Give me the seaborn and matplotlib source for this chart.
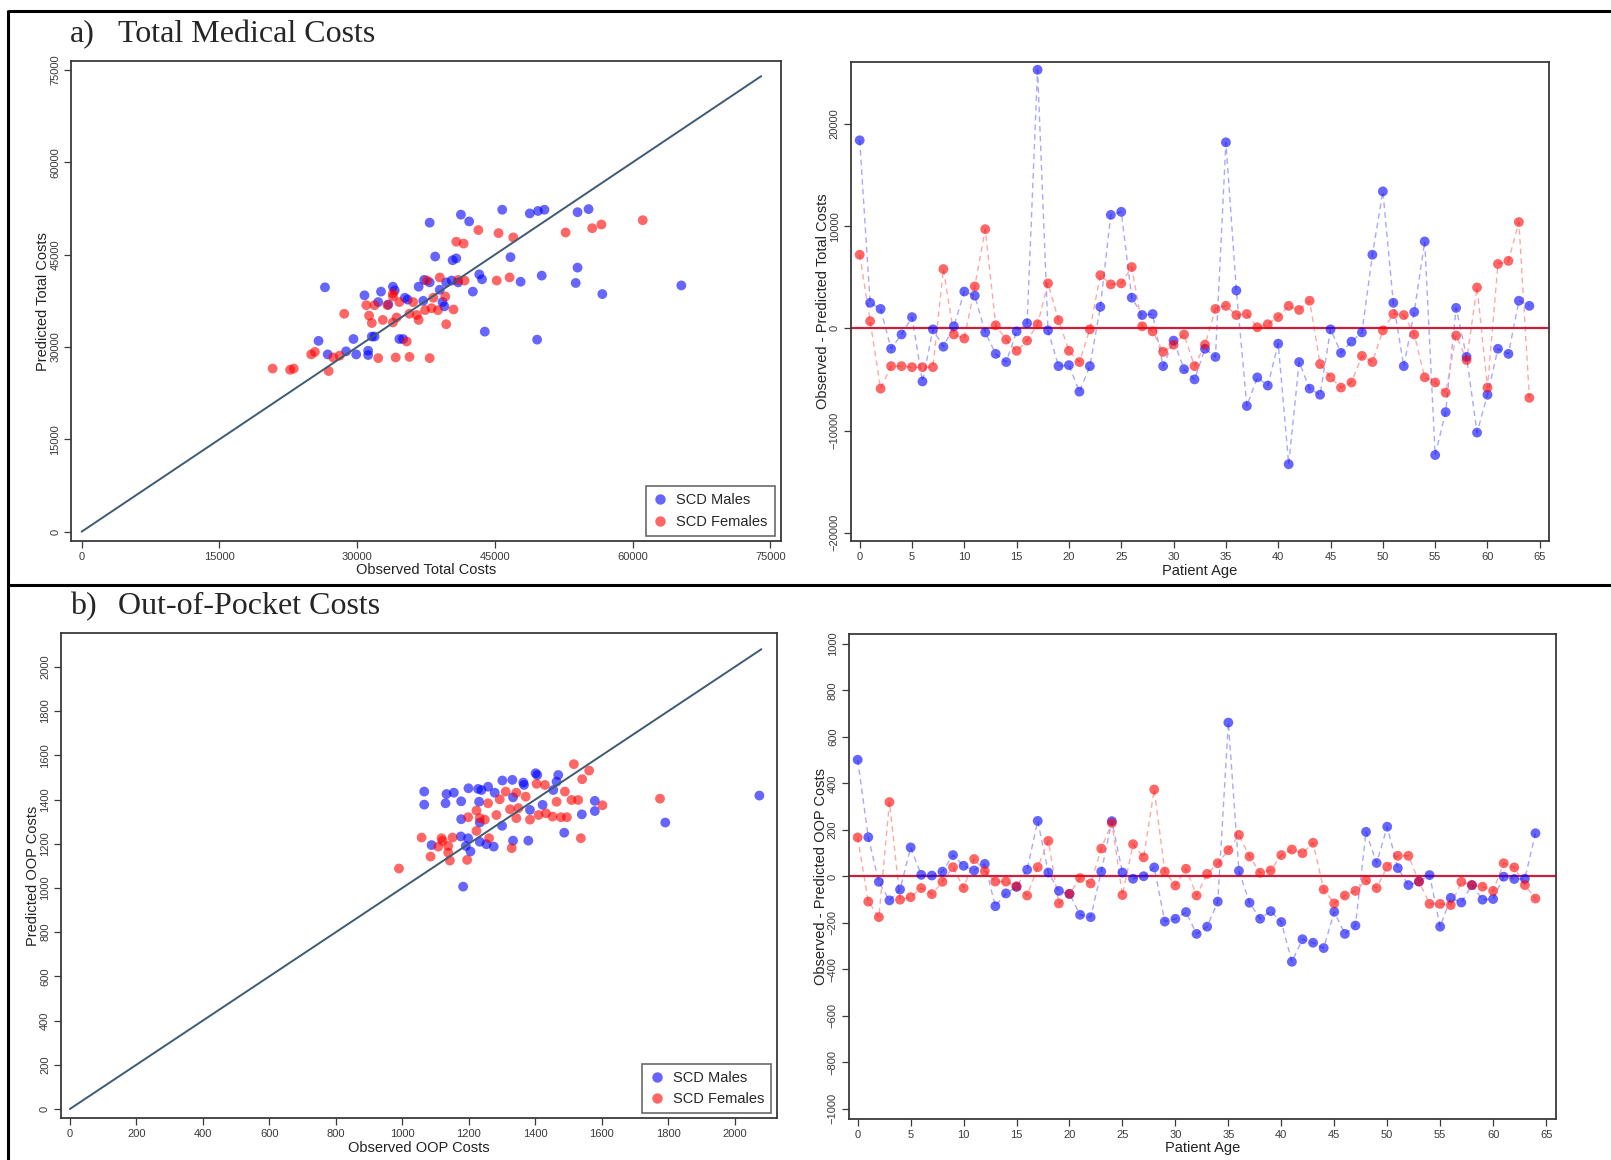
import matplotlib
matplotlib.use("Agg")
import matplotlib.pyplot as plt
from matplotlib.lines import Line2D
import seaborn as sns
import pandas as pd

# ---------------- data ----------------
ages = list(range(65))

tot_obs_male = [37900, 41300, 42200, 38500, 40400, 40800, 26500, 30800, 32600, 33900, 34100, 32300, 33400, 35200,
                36700, 37300, 37900, 39000, 39700, 40300, 41000, 43300, 43600, 42600, 39300, 39500, 35500, 37200,
                43900, 25800, 29600, 31600, 31900, 34600, 35000, 26800, 28800, 29900, 31200, 31200, 45800, 48800,
                49700, 50400, 54000, 55200, 46700, 47800, 50100, 53800, 54000, 56700, 65300, 49600]
tot_pred_male = [50200, 51500, 50400, 44700, 44100, 44400, 39700, 38400, 39000, 39800, 39200, 37300, 36900, 38000,
                 39800, 40900, 40500, 39300, 40500, 40800, 40500, 41800, 41000, 39000, 37300, 36600, 37700, 37500,
                 32500, 31000, 31300, 31700, 31700, 31300, 31300, 28800, 29300, 28800, 29400, 28700, 52300, 51700,
                 52100, 52300, 51900, 52400, 44600, 40600, 41600, 40400, 42900, 38600, 40000, 31200]
tot_obs_female = [43200, 40800, 41600, 39000, 37600, 41000, 41700, 33900, 33900, 31000, 31900, 33300, 34600, 36100,
                  28600, 31300, 31600, 32800, 33900, 34300, 35700, 36500, 36700, 37400, 38100, 38300, 38800, 39600,
                  40500, 39700, 35400, 25000, 25400, 27400, 28100, 32300, 34200, 35700, 37900, 20800, 22700, 23100,
                  26900, 45400, 47000, 52700, 55600, 56600, 61100, 45200, 46600]
tot_pred_female = [49000, 47100, 46800, 41300, 40800, 40900, 40800, 38700, 38200, 36800, 36800, 36800, 37300, 37300,
                   35400, 35100, 33900, 34400, 34000, 34800, 35400, 35200, 34400, 36000, 36300, 38000, 36000, 38200,
                   36100, 33700, 30900, 28800, 29200, 28300, 28600, 28200, 28300, 28400, 28200, 26500, 26300, 26500,
                   26100, 48500, 47800, 48600, 49300, 49900, 50600, 40800, 41300]

tot_resid_male = [18400, 2500, 1900, -2000, -600, 1100, -5200, -100, -1800, 200, 3600, 3200, -400, -2500, -3300,
                  -300, 500, 25300, -200, -3700, -3600, -6200, -3700, 2100, 11100, 11400, 3000, 1300, 1400, -3700,
                  -1200, -4000, -5000, -2000, -2800, 18200, 3700, -7600, -4800, -5600, -1500, -13300, -3300, -5900,
                  -6500, -100, -2400, -1300, -400, 7200, 13400, 2500, -3700, 1600, 8500, -12400, -8200, 2000, -2800,
                  -10200, -6500, -2000, -2500, 2700, 2200]
tot_resid_female = [7200, 700, -5900, -3700, -3700, -3800, -3800, -3800, 5800, -600, -1000, 4100, 9700, 300, -1100,
                    -2200, -1200, 400, 4400, 800, -2200, -3300, -100, 5200, 4300, 4400, 6000, 200, -300, -2300,
                    -1600, -600, -3700, -1600, 1900, 2200, 1300, 1400, 100, 400, 1100, 2200, 1800, 2700, -3500,
                    -4800, -5800, -5300, -2700, -3300, -200, 1400, 1300, -600, -4800, -5300, -6300, -700, -3100,
                    4000, -5800, 6300, 6600, 10400, -6800]

oop_obs_male = [1066, 1066, 1133, 1155, 1130, 1177, 1199, 1228, 1238, 1258, 1231, 1278, 1301, 1331, 1364, 1366,
                1401, 1406, 1469, 1464, 1454, 1333, 1384, 1422, 1579, 1540, 1487, 1177, 1300, 1233, 1176, 1198,
                1191, 1205, 1088, 1233, 1253, 1275, 1333, 1379, 1183, 1579, 2074, 1791]
oop_pred_male = [1436, 1377, 1425, 1431, 1383, 1392, 1451, 1448, 1443, 1458, 1390, 1431, 1486, 1489, 1477, 1466,
                 1519, 1511, 1511, 1481, 1443, 1410, 1353, 1376, 1394, 1333, 1250, 1311, 1281, 1296, 1233, 1225,
                 1190, 1165, 1194, 1209, 1198, 1187, 1214, 1214, 1006, 1348, 1418, 1296]
oop_obs_female = [1516, 1562, 1541, 1404, 1429, 1311, 1343, 1371, 1258, 1293, 1489, 1509, 1529, 1464, 1324, 1349,
                  1223, 1198, 1233, 1248, 1283, 1343, 1384, 1410, 1432, 1452, 1477, 1495, 1223, 1261, 1151, 1118,
                  1121, 1058, 1108, 1138, 1138, 1085, 1143, 1195, 1329, 1537, 990, 1602, 1775]
oop_pred_female = [1560, 1531, 1492, 1471, 1466, 1436, 1431, 1413, 1383, 1401, 1436, 1398, 1398, 1390, 1356, 1361,
                   1350, 1320, 1316, 1309, 1330, 1316, 1309, 1330, 1338, 1323, 1320, 1320, 1258, 1225, 1228, 1225,
                   1213, 1228, 1187, 1190, 1160, 1142, 1124, 1127, 1180, 1225, 1088, 1374, 1404]

oop_resid_male = [502, 169, -23, -103, -56, 125, 7, 4, 21, 92, 46, 26, 54, -128, -73, -45, 29, 239, 17, -62, -75,
                  -165, -175, 21, 238, 17, -10, 1, 39, -194, -182, -153, -247, -216, -108, 662, 24, -113, -182,
                  -149, -196, -367, -270, -285, -308, -152, -247, -211, 192, 58, 214, 36, -37, -22, 6, -216, -92,
                  -112, -37, -100, -97, -1, -11, -10, 186]
oop_resid_female = [168, -108, -175, 320, -100, -89, -50, -76, -23, 40, -50, 75, 23, -22, -22, -42, -82, 40, 153,
                    -116, -75, -7, -30, 120, 230, -80, 139, 82, 374, 21, -39, 33, -82, 11, 57, 113, 179, 86, 16,
                    26, 92, 116, 100, 145, -56, -116, -82, -62, -17, -50, 42, 89, 89, -22, -118, -118, -123, -23,
                    -37, -44, -62, 57, 39, -37, -95]

groups = ["SCD Males", "SCD Females"]

# ---------------- style ----------------
sns.set_style("ticks")
plt.rcParams["font.family"] = ["Liberation Sans", "DejaVu Sans"]

W, H = 1611, 1160
fig = plt.figure(figsize=(W / 100, H / 100), dpi=100, facecolor="white")

pal = {"SCD Males": "blue", "SCD Females": "red"}
line_pal = {"SCD Males": "#a8a8ff", "SCD Females": "#ffa8a8"}
spine_col = "#3a3a3a"
tick_col = "#3a3a3a"


def px_axes(left, top, right, bottom):
    return fig.add_axes([left / W, 1 - bottom / H, (right - left) / W, (bottom - top) / H])


def style_axes(ax):
    for s in ax.spines.values():
        s.set_visible(True)
        s.set_color(spine_col)
        s.set_linewidth(1.3)
    ax.tick_params(axis="both", direction="out", length=5, width=0.9, color=tick_col,
                   labelcolor=tick_col, labelsize=8, pad=3)
    for lab in ax.get_yticklabels():
        lab.set_rotation(90)
        lab.set_va("center")


def scatter_panel(ax, obs_m, pred_m, obs_f, pred_f, line_max, xlim, ylim, ticks, xlabel, ylabel, leg_anchor):
    df = pd.concat([
        pd.DataFrame({"obs": obs_m, "pred": pred_m, "group": groups[0]}),
        pd.DataFrame({"obs": obs_f, "pred": pred_f, "group": groups[1]}),
    ])
    sns.scatterplot(data=df, x="obs", y="pred", hue="group", palette=pal, alpha=0.6, s=50,
                    edgecolor="none", legend=False, ax=ax, zorder=2)
    ax.plot([0, line_max], [0, line_max], color="#3f5b74", lw=1.4, zorder=3)
    ax.set_xlim(*xlim)
    ax.set_ylim(*ylim)
    ax.set_xticks(ticks)
    ax.set_yticks(ticks)
    ax.set_xlabel(xlabel, fontsize=10.5, labelpad=1, color="#222222")
    ax.set_ylabel(ylabel, fontsize=10.5, labelpad=0, color="#222222")
    style_axes(ax)
    handles = [Line2D([], [], marker="o", ls="none", color=pal[g], alpha=0.6, markersize=7.5,
                      markeredgewidth=0) for g in groups]
    leg = ax.legend(handles, groups, loc="lower right", bbox_to_anchor=leg_anchor, borderaxespad=0,
                    fontsize=10.5, frameon=True, fancybox=False, handletextpad=0.6,
                    handlelength=1.0, labelspacing=0.5, borderpad=0.5)
    leg.get_frame().set_edgecolor("#444444")
    leg.get_frame().set_linewidth(1.2)


def resid_panel(ax, resid_m, resid_f, xlim, ylim, yticks, ylabel):
    df = pd.concat([
        pd.DataFrame({"age": ages, "resid": resid_m, "group": groups[0]}),
        pd.DataFrame({"age": ages, "resid": resid_f, "group": groups[1]}),
    ])
    for g in groups:
        sub = df[df["group"] == g]
        sns.lineplot(data=sub, x="age", y="resid", color=line_pal[g], lw=1.0, ax=ax,
                     dashes=False, linestyle=(0, (4, 3)), zorder=1)
    ax.axhline(0, color="#cc1f3d", lw=1.6, zorder=1.5)
    sns.scatterplot(data=df, x="age", y="resid", hue="group", palette=pal, alpha=0.6, s=50,
                    edgecolor="none", legend=False, ax=ax, zorder=2)
    ax.set_xlim(*xlim)
    ax.set_ylim(*ylim)
    ax.set_xticks(range(0, 66, 5))
    ax.set_yticks(yticks)
    ax.set_xlabel("Patient Age", fontsize=10.5, labelpad=1, color="#222222")
    ax.set_ylabel(ylabel, fontsize=10.5, labelpad=0, color="#222222")
    style_axes(ax)


# ---------------- a) total medical costs ----------------
ax1 = px_axes(71.4, 61.3, 780.6, 541)
scatter_panel(ax1, tot_obs_male, tot_pred_male, tot_obs_female, tot_pred_female, 74000,
              (-1110, 76110), (-1510, 76410), range(0, 75001, 15000),
              "Observed Total Costs", "Predicted Total Costs", (0.992, 0.0105))

ax2 = px_axes(851, 61.7, 1548.5, 541)
resid_panel(ax2, tot_resid_male, tot_resid_female, (-0.83, 65.83), (-20810, 26090),
            range(-20000, 20001, 10000), "Observed - Predicted Total Costs")

# ---------------- b) out-of-pocket costs ----------------
ax3 = px_axes(61.2, 633.3, 777, 1118.3)
scatter_panel(ax3, oop_obs_male, oop_pred_male, oop_obs_female, oop_pred_female, 2080,
              (-26, 2127), (-42, 2152), range(0, 2001, 200),
              "Observed OOP Costs", "Predicted OOP Costs", (0.992, 0.01))

ax4 = px_axes(849, 634, 1555.6, 1118.7)
resid_panel(ax4, oop_resid_male, oop_resid_female, (-0.82, 65.9), (-1042, 1043),
            range(-1000, 1001, 200), "Observed - Predicted OOP Costs")

# ---------------- panel titles & frame ----------------
title_kw = dict(fontsize=23, family=["Liberation Serif", "DejaVu Serif"], va="baseline", ha="left")
fig.text(70 / W, 1 - 41.5 / H, "a)", **title_kw)
fig.text(118 / W, 1 - 41.5 / H, "Total Medical Costs", **title_kw)
fig.text(70 / W, 1 - 614 / H, "b)", **title_kw)
fig.text(118 / W, 1 - 614 / H, "Out-of-Pocket Costs", **title_kw)

frame_kw = dict(color="black", lw=2.2, transform=fig.transFigure, solid_capstyle="butt")
fig.add_artist(Line2D([7.7 / W, 1], [1 - 11 / H, 1 - 11 / H], **frame_kw))
fig.add_artist(Line2D([7.7 / W, 1], [1 - 585 / H, 1 - 585 / H], **frame_kw))
fig.add_artist(Line2D([7.7 / W, 7.7 / W], [0, 1 - 10 / H], **frame_kw))

fig.savefig("out.png", dpi=100, facecolor="white")
